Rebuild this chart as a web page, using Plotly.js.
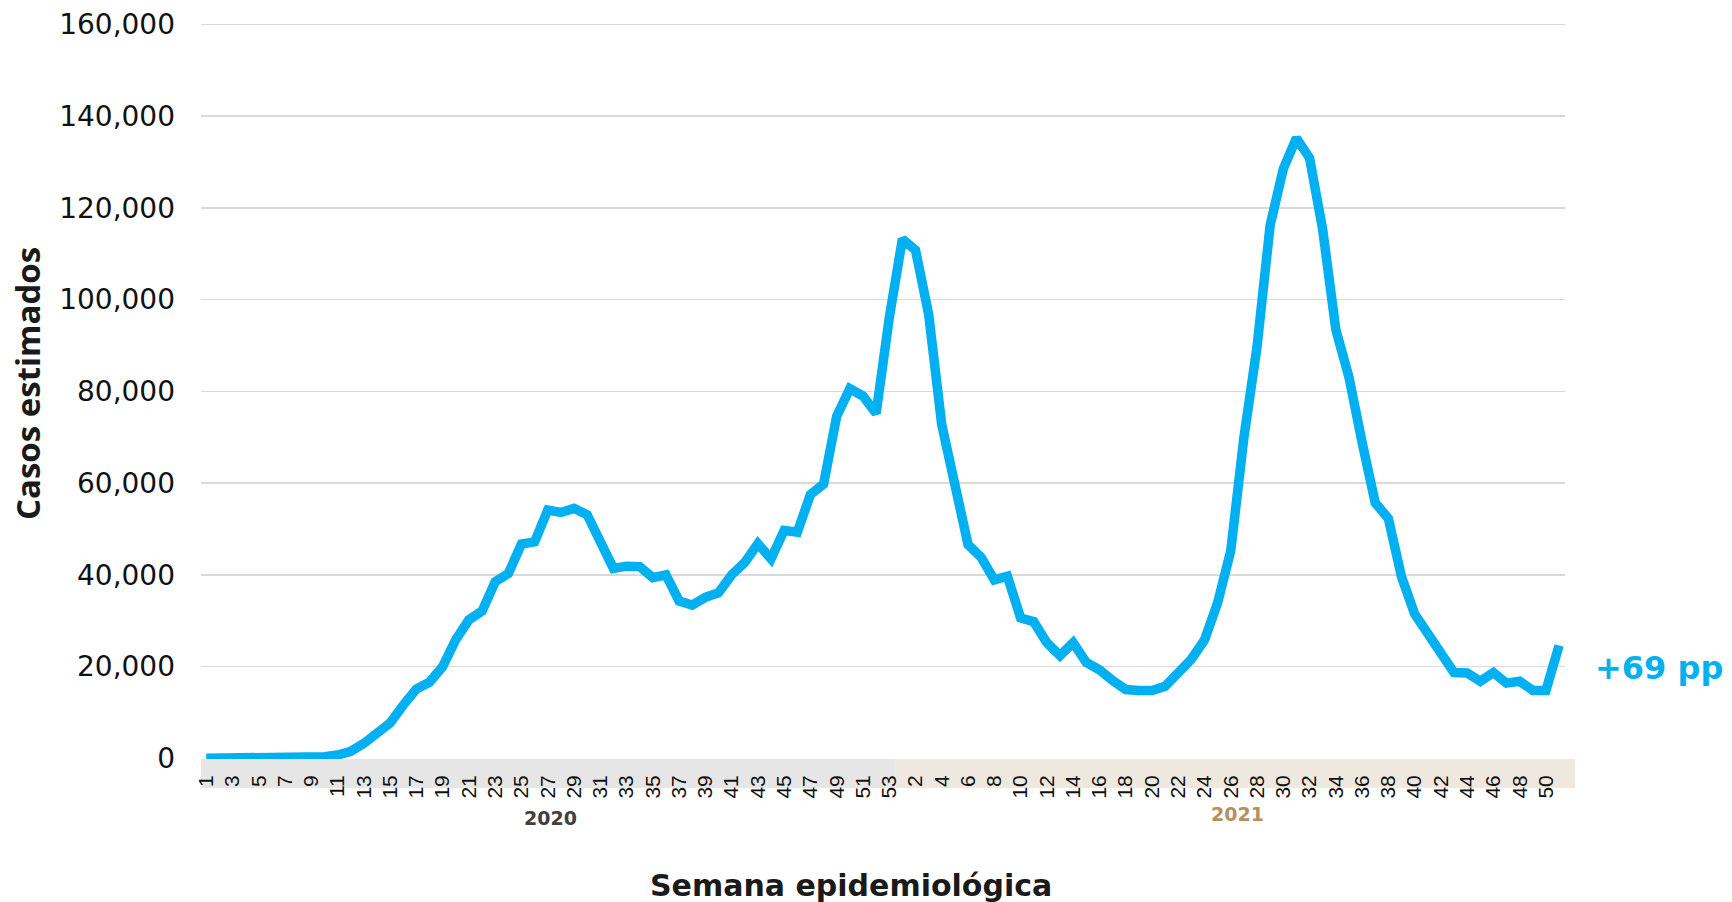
<!DOCTYPE html>
<html>
<head>
<meta charset="utf-8">
<script src="https://cdn.plot.ly/plotly-3.0.1.min.js"></script>
<style>html,body{margin:0;padding:0;background:#fff;}#chart{width:1732px;height:902px;}</style>
</head>
<body>
<div id="chart"></div>
<script>
// Epidemiological weeks
const weeks2020 = [1,2,3,4,5,6,7,8,9,10,11,12,13,14,15,16,17,18,19,20,21,22,23,24,25,26,27,28,29,30,31,32,33,34,35,36,37,38,39,40,41,42,43,44,45,46,47,48,49,50,51,52,53];
const weeks2021 = [1,2,3,4,5,6,7,8,9,10,11,12,13,14,15,16,17,18,19,20,21,22,23,24,25,26,27,28,29,30,31,32,33,34,35,36,37,38,39,40,41,42,43,44,45,46,47,48,49,50,51];

// Estimated cases per week
const cases2020 = [0,0,0,0,0,0,0,50,150,350,700,1500,3250,5200,7700,11600,15100,16600,20000,25900,30200,32100,38500,40300,46700,47200,54100,53600,54500,53100,47600,41400,41900,41800,39400,40000,34300,33400,35100,36100,40000,42700,46800,43500,49700,49300,57500,59800,74600,80600,79000,75200,96000];
const cases2021 = [113200,110800,96800,72700,59400,46600,43800,38900,39700,30600,29800,25200,22400,25200,20900,19300,17000,15000,14800,14800,15700,18700,21600,25800,33900,45200,69900,89700,116200,128500,135200,130900,115300,93500,83100,68900,55700,52300,39600,31500,27300,23500,18700,18600,16800,18700,16400,16800,14800,14800,24600];

const yearLabels = ["2020", "2021"];
const changeLabel = "+69 pp";
const xTitle = "Semana epidemiológica";
const yTitle = "Casos estimados";

// Build sequential positions and tick labels (odd weeks of 2020, even weeks of 2021)
const allWeeks = weeks2020.concat(weeks2021);
const allCases = cases2020.concat(cases2021);
const xs = allWeeks.map((w, i) => i);
const tickvals = [], ticktext = [];
xs.forEach((i) => { if (i % 2 === 0) { tickvals.push(i); ticktext.push(String(allWeeks[i])); } });

// plot frame (pixels); top margin leaves room so the 160,000 gridline is drawn
const L = 201, R = 1565, T = 14, B = 759;
const Y0PX = 758.3, YTOPPX = 24.5, YMAX = 160000;
const perPx = YMAX / (Y0PX - YTOPPX);
const yr = [-(B - Y0PX) * perPx, YMAX + (YTOPPX - T) * perPx];
const W = R - L, H = B - T;
const xr = [-0.4, 103.45];
const toPaperX = (v) => (v - xr[0]) / (xr[1] - xr[0]);
const px = (p) => (p - L) / W;
const py = (p) => (B - p) / H;
const split = toPaperX(weeks2020.length - 0.5);

const trace = {
  x: xs, y: allCases, type: 'scatter', mode: 'lines',
  line: {color: '#00b0f0', width: 9.5, shape: 'linear'},
  hoverinfo: 'skip', showlegend: false
};

const layout = {
  width: 1732, height: 902,
  margin: {l: L, r: 1732 - R, t: T, b: 902 - B},
  paper_bgcolor: '#ffffff', plot_bgcolor: 'rgba(0,0,0,0)',
  showlegend: false,
  xaxis: {
    range: xr, tickmode: 'array', tickvals: tickvals, ticktext: ticktext,
    tickangle: -90, ticks: '', showgrid: false, zeroline: false, showline: false,
    tickfont: {family: 'Liberation Sans, Arial, sans-serif', size: 21, color: '#111'},
    ticklabelstandoff: 11, automargin: false
  },
  yaxis: {
    range: yr, tick0: 0, dtick: 20000, tickformat: ',d', ticks: '',
    showgrid: true, gridcolor: '#d9d9d9', gridwidth: 1.5, zeroline: false, showline: false,
    tickfont: {family: 'DejaVu Sans, sans-serif', size: 28, color: '#111'},
    ticklabelstandoff: 25, automargin: false
  },
  shapes: [
    {type: 'rect', xref: 'paper', yref: 'paper', x0: 0, x1: split, y0: py(759), y1: py(788),
     fillcolor: '#e6e6e6', line: {width: 0}, layer: 'below'},
    {type: 'rect', xref: 'paper', yref: 'paper', x0: split, x1: px(1575), y0: py(759), y1: py(788),
     fillcolor: '#efe8df', line: {width: 0}, layer: 'below'}
  ],
  annotations: [
    {text: yearLabels[0], xref: 'paper', yref: 'paper', x: px(550), y: py(818), showarrow: false,
     xanchor: 'center', yanchor: 'middle', font: {family: 'DejaVu Sans, sans-serif', size: 19, weight: 700, color: '#404040'}},
    {text: yearLabels[1], xref: 'paper', yref: 'paper', x: px(1237), y: py(814), showarrow: false,
     xanchor: 'center', yanchor: 'middle', font: {family: 'DejaVu Sans, sans-serif', size: 19, weight: 700, color: '#b4915f'}},
    {text: changeLabel, xref: 'paper', yref: 'paper', x: px(1593), y: py(668), showarrow: false,
     xanchor: 'left', yanchor: 'middle', font: {family: 'DejaVu Sans, sans-serif', size: 32, weight: 700, color: '#00b0f0'}},
    {text: xTitle, xref: 'paper', yref: 'paper', x: px(851), y: py(885), showarrow: false,
     xanchor: 'center', yanchor: 'middle', font: {family: 'DejaVu Sans, sans-serif', size: 30, weight: 700, color: '#1a1a1a'}},
    {text: yTitle, xref: 'paper', yref: 'paper', x: px(28), y: py(384), showarrow: false, textangle: -90,
     xanchor: 'center', yanchor: 'middle', font: {family: 'Open Sans, sans-serif', size: 33, weight: 700, color: '#1a1a1a'}}
  ]
};

Plotly.newPlot('chart', [trace], layout, {displayModeBar: false, staticPlot: true});
</script>
</body>
</html>
